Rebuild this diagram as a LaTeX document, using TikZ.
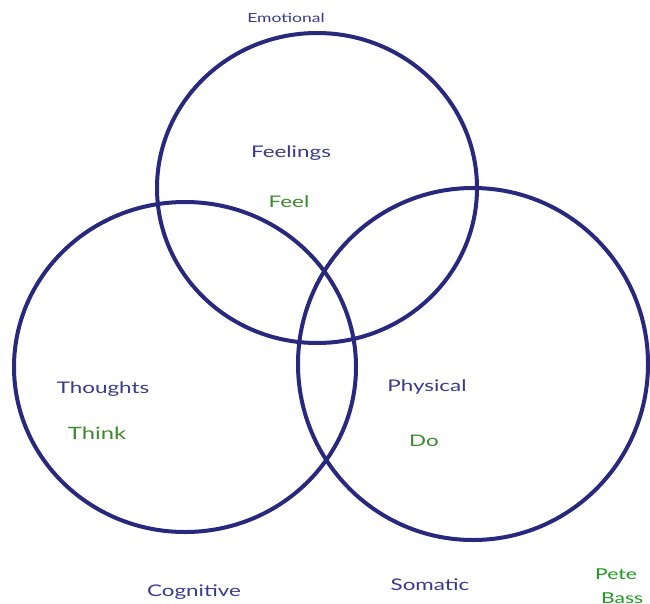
\documentclass[tikz,border=0pt]{standalone}
\usepackage{fontspec}
\setmainfont{Lato}
\newfontfamily\handfont[FakeStretch=1.4]{Lato}
\definecolor{ringblue}{HTML}{28287E}
\definecolor{txtblue}{HTML}{3A3A8E}
\definecolor{txtgreen}{HTML}{3C8A2E}
\definecolor{sigreen}{HTML}{1E9A1E}
\begin{document}
\begin{tikzpicture}[x=1pt,y=-1pt,
  ring/.style={draw=ringblue,line width=4pt},
  lbl/.style={text=txtblue,font=\handfont\fontsize{16}{18}\selectfont,inner sep=0pt},
  verb/.style={text=txtgreen,font=\handfont\fontsize{16}{18}\selectfont,inner sep=0pt},
  cat/.style={text=txtblue,font=\handfont\fontsize{16}{18}\selectfont,inner sep=0pt}]
\useasboundingbox[fill=white] (0,0) rectangle (650,603);
\clip (0,0) rectangle (650,603);
\draw[ring] (317,188) ellipse [x radius=160, y radius=155];
\draw[ring] (185,367) ellipse [x radius=171, y radius=165];
\draw[ring] (473,364) ellipse [x radius=175, y radius=176];
\node[cat,font=\handfont\fontsize{12.5}{14}\selectfont] (emo) at (286,18) {Emotional};
\node[lbl] (fee) at (291,153) {Feelings};
\node[verb] (feel) at (289,202) {Feel};
\node[lbl] (tho) at (103,389) {Thoughts};
\node[verb,font=\handfont\fontsize{17}{19}\selectfont] (think) at (97,433) {Think};
\node[lbl] (phy) at (427,387) {Physical};
\node[verb] (do) at (424,441) {Do};
\node[cat] (cog) at (194,592) {Cognitive};
\node[cat] (som) at (430,585) {Somatic};
\node[text=sigreen,font=\handfont\fontsize{15}{17}\selectfont,inner sep=0pt] (pete) at (616,574) {Pete};
\node[text=sigreen,font=\handfont\fontsize{15}{17}\selectfont,inner sep=0pt,anchor=north west] (bass) at (601,593) {Bass};
\end{tikzpicture}
\end{document}
